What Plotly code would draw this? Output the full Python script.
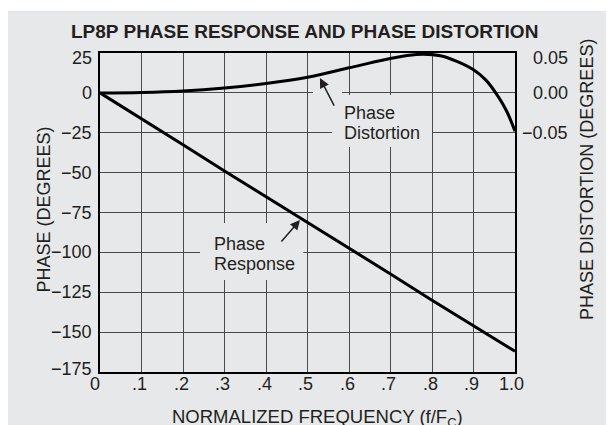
import plotly.graph_objects as go

# ---- data ----
freq_tickvals = [0, 0.1, 0.2, 0.3, 0.4, 0.5, 0.6, 0.7, 0.8, 0.9, 1.0]
freq_ticktext = ["0", ".1", ".2", ".3", ".4", ".5", ".6", ".7", ".8", ".9", "1.0"]
phase_ticks = [-175, -150, -125, -100, -75, -50, -25, 0, 25]
phase_ticktext = ["\u2212175", "\u2212150", "\u2212125", "\u2212100", "\u221275",
                  "\u221250", "\u221225", "0", "25"]
dist_tickvals = [-0.05, 0.0, 0.05]
dist_ticktext = ["\u22120.05", "0.00", "0.05"]

phase_freq = [0, 0.1, 0.2, 0.3, 0.4, 0.5, 0.6, 0.7, 0.8, 0.9, 1.0]
phase_deg = [0, -16, -32.5, -49, -65, -81, -97, -113.5, -130, -146, -162]

dist_freq = [0, 0.1, 0.2, 0.3, 0.4, 0.5, 0.6, 0.68, 0.74, 0.78, 0.82, 0.86, 0.9, 0.93, 0.96, 0.98, 1.0]
dist_deg = [0, 0.0006, 0.0024, 0.0062, 0.0118, 0.0196, 0.0314, 0.0410, 0.0468, 0.0485,
            0.0466, 0.0395, 0.0290, 0.0160, -0.0050, -0.0230, -0.0480]

GRAY = "#e7e8ea"
INK = "#231f20"
FONT = "Liberation Sans, Arial, Helvetica, sans-serif"
TICK = dict(size=18, color=INK, family=FONT)

fig = go.Figure()
fig.add_trace(go.Scatter(x=phase_freq, y=phase_deg, mode="lines",
                         line=dict(color="black", width=3), yaxis="y", showlegend=False))
fig.add_trace(go.Scatter(x=dist_freq, y=dist_deg, mode="lines",
                         line=dict(color="black", width=3, shape="spline"),
                         yaxis="y2", showlegend=False))

axis_common = dict(showline=True, linecolor="black", linewidth=2, zeroline=False,
                   ticks="", showticklabels=False)

fig.update_layout(
    width=614, height=425, autosize=False,
    margin=dict(l=92, r=107, t=45, b=61),
    paper_bgcolor=GRAY, plot_bgcolor=GRAY,
    font=dict(family=FONT, color=INK, size=18),
    xaxis=dict(range=[0, 1], tickvals=freq_tickvals,
               showgrid=True, gridcolor="#4a4a4a", gridwidth=1.3, mirror=True, **axis_common),
    yaxis=dict(range=[-175, 25], tickvals=phase_ticks,
               showgrid=True, gridcolor="#4a4a4a", gridwidth=1.3, mirror=True, **axis_common),
    yaxis2=dict(range=[-0.35, 0.05], tickvals=dist_tickvals,
                overlaying="y", side="right", showgrid=False, zeroline=False,
                showline=False, ticks="", showticklabels=False),
)

# thin white strip at the very top (reference panel starts a little lower)
fig.add_shape(type="rect", xref="paper", yref="paper", layer="above",
              x0=-1, x1=2, y0=(372 - 11) / 319, y1=1.3,
              fillcolor="white", line=dict(width=0))

# masks behind the in-plot labels
for (x0, x1, y0, y1) in [(0.559, 0.80, -33.9, -1.3), (0.513, 0.583, -2.5, 1.2),
                         (0.241, 0.49, -117.3, -81.6)]:
    fig.add_shape(type="rect", xref="x", yref="y", layer="above",
                  x0=x0, x1=x1, y0=y0, y1=y1, fillcolor=GRAY, line=dict(width=0))

ann = []
# tick labels (placed on the axes' own scales)
for v, t in zip(freq_tickvals, freq_ticktext):
    xs = -5 if v == 0 else (-4 if v == 1.0 else -2)
    ann.append(dict(text=t, xref="x", yref="paper", x=v, y=0, yshift=-12, xshift=xs,
                    showarrow=False, xanchor="center", yanchor="middle", font=TICK))
for v, t in zip(phase_ticks, phase_ticktext):
    ys = -4.5 if v == 25 else (3 if v == -175 else 0)
    ann.append(dict(text=t, xref="paper", yref="y", x=0, y=v, xshift=-6, yshift=ys,
                    showarrow=False, xanchor="right", yanchor="middle", font=TICK))
for v, t in zip(dist_tickvals, dist_ticktext):
    ys = -5 if v == 0.05 else 0
    ann.append(dict(text=t, xref="paper", yref="y2", x=1, y=v, xshift=55, yshift=ys,
                    showarrow=False, xanchor="right", yanchor="middle", font=TICK))

# title and axis titles
ann.append(dict(text="<b>LP8P PHASE RESPONSE AND PHASE DISTORTION</b>", xref="paper", yref="paper",
                x=(304 - 100) / 415, y=(372 - 31) / 319, showarrow=False,
                font=dict(size=19, color=INK), xanchor="center", yanchor="middle"))
ann.append(dict(text="NORMALIZED FREQUENCY (f/F<sub>C</sub>)", xref="paper", yref="paper",
                x=(317 - 100) / 415, y=(372 - 418) / 319, showarrow=False,
                font=dict(size=18.5, color=INK), xanchor="center", yanchor="middle"))
ann.append(dict(text="PHASE (DEGREES)", xref="paper", yref="paper",
                x=(43.5 - 100) / 415, y=(372 - 209) / 319, showarrow=False, textangle=-90,
                font=dict(size=18, color=INK), xanchor="center", yanchor="middle"))
ann.append(dict(text="PHASE DISTORTION (DEGREES)", xref="paper", yref="paper",
                x=(587 - 100) / 415, y=(372 - 180) / 319, showarrow=False, textangle=-90,
                font=dict(size=18, color=INK), xanchor="center", yanchor="middle"))
# in-plot labels
for txt, x, y in [("Phase", 0.583, -12.7), ("Distortion", 0.583, -25.3),
                  ("Phase", 0.270, -94.7), ("Response", 0.270, -107.3)]:
    ann.append(dict(text=txt, xref="x", yref="y", x=x, y=y, showarrow=False,
                    xanchor="left", yanchor="middle", font=dict(size=18, color=INK)))
# arrows
for hx, hy, tx, ty in [(0.530, 9.3, 0.566, -8.9), (0.482, -79.7, 0.434, -94.1)]:
    ann.append(dict(text="", xref="x", yref="y", x=hx, y=hy, axref="x", ayref="y",
                    ax=tx, ay=ty, showarrow=True, arrowhead=2, arrowsize=1.3,
                    arrowwidth=1.5, arrowcolor=INK, standoff=0))
fig.update_layout(annotations=ann)

fig.write_html("out.html")
